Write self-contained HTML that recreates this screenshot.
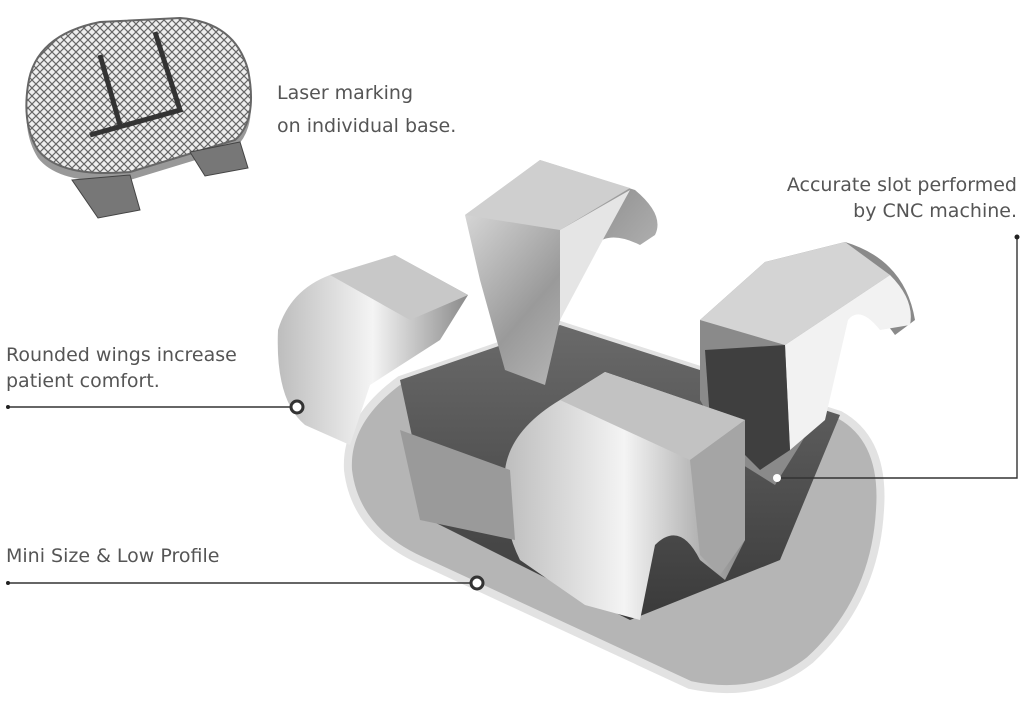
<!DOCTYPE html>
<html><head><meta charset="utf-8"><style>
html,body{margin:0;padding:0;background:#fff;}
body{width:1024px;height:702px;position:relative;overflow:hidden;font-family:"DejaVu Sans","Liberation Sans",sans-serif;color:#555;}
.t{position:absolute;font-size:19px;line-height:26px;white-space:nowrap;}
svg{position:absolute;left:0;top:0;}
</style></head><body>
<svg width="1024" height="702" viewBox="0 0 1024 702">
<defs>
<linearGradient id="g1" x1="0" y1="0" x2="1" y2="1"><stop offset="0" stop-color="#e8e8e8"/><stop offset="0.5" stop-color="#9a9a9a"/><stop offset="1" stop-color="#d0d0d0"/></linearGradient>
<linearGradient id="g2" x1="0" y1="0" x2="1" y2="0"><stop offset="0" stop-color="#bdbdbd"/><stop offset="0.5" stop-color="#f4f4f4"/><stop offset="1" stop-color="#8a8a8a"/></linearGradient>
<linearGradient id="g3" x1="0" y1="0" x2="0" y2="1"><stop offset="0" stop-color="#6a6a6a"/><stop offset="1" stop-color="#3a3a3a"/></linearGradient>
<pattern id="knurl" width="8" height="8" patternUnits="userSpaceOnUse"><rect width="8" height="8" fill="#eee"/><path d="M0 0L8 8M8 0L0 8" stroke="#666" stroke-width="1.2"/></pattern>
</defs>
<path d="M28 85 Q35 35 100 22 L180 18 Q235 22 248 70 Q258 120 235 140 L130 172 Q60 178 38 150 Q22 125 28 85Z" fill="#999" transform="translate(0,8)"/>
<path d="M28 85 Q35 35 100 22 L180 18 Q235 22 248 70 Q258 120 235 140 L130 172 Q60 178 38 150 Q22 125 28 85Z" fill="url(#knurl)" stroke="#666" stroke-width="2"/>
<path d="M100 55 L120 125 M155 32 L180 110 L90 135" stroke="#333" stroke-width="5" fill="none"/>
<path d="M72 180 L130 175 L140 210 L98 218 Z" fill="#777" stroke="#444"/>
<path d="M190 152 L240 142 L248 168 L205 176 Z" fill="#777" stroke="#444"/>
<path d="M560 325 L840 415 Q885 440 880 510 Q875 600 810 660 Q760 700 690 685 L420 560 Q355 530 348 470 Q345 420 400 380 Z" fill="#b5b5b5"/>
<path d="M560 325 L840 415 Q885 440 880 510 Q875 600 810 660 Q760 700 690 685 L420 560 Q355 530 348 470 Q345 420 400 380 Z" fill="none" stroke="#e2e2e2" stroke-width="8"/>
<path d="M400 380 L560 325 L840 415 L780 560 L630 620 L430 520 Z" fill="url(#g3)"/>
<path d="M278 330 Q290 290 330 275 L395 255 L468 295 L440 340 L370 385 L350 445 L305 425 Q275 400 278 330Z" fill="url(#g2)"/>
<path d="M330 275 L395 255 L468 295 L410 320 Z" fill="#c8c8c8"/>
<path d="M465 215 L540 160 L635 190 Q665 215 655 235 L640 245 Q610 230 595 245 L560 320 L545 385 L505 370 L480 280 Z" fill="url(#g1)"/>
<path d="M465 215 L540 160 L630 188 L560 230 Z" fill="#cfcfcf"/>
<path d="M560 230 L630 190 L600 245 L560 320 Z" fill="#e5e5e5"/>
<path d="M700 320 L765 262 L845 242 Q905 260 915 320 L895 335 Q870 300 850 310 L820 410 L800 445 L775 485 L735 460 L700 400Z" fill="#8a8a8a"/>
<path d="M700 320 L765 262 L845 242 L890 275 L785 345 Z" fill="#d4d4d4"/>
<path d="M785 345 L890 275 Q915 300 910 325 L880 330 Q860 305 848 320 L825 420 L790 450 Z" fill="#f2f2f2"/>
<path d="M705 350 L785 345 L790 450 L760 470 L710 420 Z" fill="#3f3f3f"/>
<path d="M505 470 Q510 430 560 400 L605 372 L745 420 L745 540 L725 580 L700 560 Q680 520 655 545 L640 620 L585 605 L520 560 Q500 520 505 470Z" fill="url(#g2)"/>
<path d="M560 400 L605 372 L745 420 L690 460 Z" fill="#c2c2c2"/>
<path d="M690 460 L745 420 L745 540 L720 575 L700 555 Z" fill="#a5a5a5"/>
<path d="M400 430 L510 470 L515 540 L420 520 Z" fill="#9a9a9a"/>
</svg>
<svg width="1024" height="702" viewBox="0 0 1024 702">
<g stroke="#333" stroke-width="1.4" fill="none">
<line x1="8" y1="407" x2="291" y2="407"/>
<line x1="8" y1="583" x2="470" y2="583"/>
<polyline points="777,478 1017,478 1017,237"/>
</g>
<circle cx="8" cy="407" r="2" fill="#222"/>
<circle cx="8" cy="583" r="2" fill="#222"/>
<circle cx="1017" cy="237" r="2.5" fill="#222"/>
<circle cx="297" cy="407" r="6" fill="#fff" stroke="#333" stroke-width="3"/>
<circle cx="477" cy="583" r="6" fill="#fff" stroke="#333" stroke-width="3"/>
<circle cx="777" cy="478" r="4" fill="#fff"/>
</svg>
<div class="t" style="left:277px;top:80px;">Laser marking</div>
<div class="t" style="left:277px;top:113px;">on individual base.</div>
<div class="t" style="right:7px;top:172px;text-align:right;">Accurate slot performed</div>
<div class="t" style="right:7px;top:198px;text-align:right;">by CNC machine.</div>
<div class="t" style="left:6px;top:342px;">Rounded wings increase</div>
<div class="t" style="left:6px;top:368px;">patient comfort.</div>
<div class="t" style="left:6px;top:543px;">Mini Size &amp; Low Profile</div>
</body></html>
